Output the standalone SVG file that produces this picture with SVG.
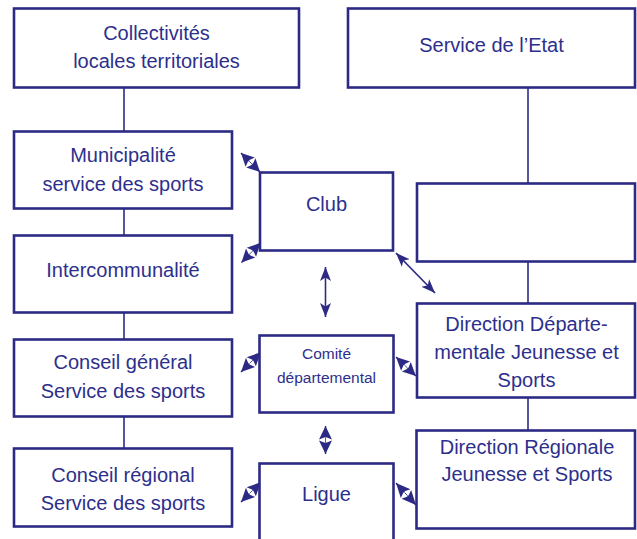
<svg xmlns="http://www.w3.org/2000/svg" xmlns:xlink="http://www.w3.org/1999/xlink" width="637" height="539" viewBox="0 0 637 539">
<style>
.box{fill:#fff;stroke:#2d2a86;stroke-width:2.6}
.lbl{font-family:"Liberation Sans",Arial,sans-serif;font-size:20px;fill:#2d2f8c;text-anchor:middle}
.sm{font-size:15.5px}
.ln{stroke:#2d2a86;stroke-width:1.6;fill:none}
.hd{fill:#2d2a86}
</style>
<defs>
<marker id="ah" markerUnits="userSpaceOnUse" markerWidth="16" markerHeight="14" viewBox="-14 -7 16 14" refX="0" refY="0" orient="auto-start-reverse">
<path d="M0,0 L-14,-5.5 L-10.5,0 L-14,5.5 Z" fill="#2d2a86"/>
</marker>
<g id="dbl">
<path class="hd" d="M0,0 L13.5,-6.5 L11,0 L13.5,6.5 Z M28,0 L14.5,-6.5 L17,0 L14.5,6.5 Z"/>
<path d="M0,0 H28" stroke="#2d2a86" stroke-width="1.4"/>
<ellipse cx="14" cy="0" rx="2.4" ry="2" fill="#fff"/>
<path d="M12,0 H16" stroke="#2d2a86" stroke-width="0.8"/>
</g>
</defs>

<g id="connectors">
<line class="ln" x1="124" y1="88" x2="124" y2="132"/>
<line class="ln" x1="124" y1="209" x2="124" y2="235"/>
<line class="ln" x1="124" y1="313" x2="124" y2="339"/>
<line class="ln" x1="124" y1="417" x2="124" y2="449"/>
<line class="ln" x1="528" y1="88" x2="528" y2="183"/>
<line class="ln" x1="528" y1="262" x2="528" y2="303"/>
<line class="ln" x1="528" y1="398" x2="528" y2="430"/>
<line class="ln" x1="325.5" y1="267" x2="325.5" y2="317" marker-start="url(#ah)" marker-end="url(#ah)"/>
<line class="ln" x1="396" y1="253" x2="435" y2="293" marker-start="url(#ah)" marker-end="url(#ah)"/>
<use xlink:href="#dbl" transform="translate(241,153) rotate(45) scale(0.96,1)"/>
<use xlink:href="#dbl" transform="translate(241.5,262.5) rotate(-46) scale(0.98,1)"/>
<use xlink:href="#dbl" transform="translate(241,372) rotate(-45)"/>
<use xlink:href="#dbl" transform="translate(241,502) rotate(-45)"/>
<use xlink:href="#dbl" transform="translate(396,357) rotate(43.5) scale(0.98,1)"/>
<use xlink:href="#dbl" transform="translate(396,483) rotate(47.7) scale(1.06,1)"/>
<use xlink:href="#dbl" transform="translate(325.5,426) rotate(90)"/>
</g>

<g id="collectivites">
<rect class="box" x="14" y="8.5" width="285" height="79"/>
<text class="lbl" x="156.5" y="40">Collectivités</text>
<text class="lbl" x="156.5" y="68">locales territoriales</text>
</g>
<g id="municipalite">
<rect class="box" x="14" y="131.5" width="218" height="77"/>
<text class="lbl" x="123" y="162">Municipalité</text>
<text class="lbl" x="123" y="191">service des sports</text>
</g>
<g id="intercommunalite">
<rect class="box" x="14" y="235.5" width="218" height="77"/>
<text class="lbl" x="123" y="277">Intercommunalité</text>
</g>
<g id="conseil-general">
<rect class="box" x="14" y="339.5" width="218" height="77"/>
<text class="lbl" x="123" y="369">Conseil général</text>
<text class="lbl" x="123" y="398">Service des sports</text>
</g>
<g id="conseil-regional">
<rect class="box" x="14" y="448.5" width="218" height="78"/>
<text class="lbl" x="123" y="482">Conseil régional</text>
<text class="lbl" x="123" y="510">Service des sports</text>
</g>
<g id="service-etat">
<rect class="box" x="348" y="8.5" width="287" height="79"/>
<text class="lbl" x="491.5" y="52">Service de l’Etat</text>
</g>
<g id="club">
<rect class="box" x="260" y="172.5" width="133" height="78"/>
<text class="lbl" x="326.5" y="211">Club</text>
</g>
<g id="empty-box">
<rect class="box" x="417" y="183.5" width="218" height="78"/>
</g>
<g id="comite">
<rect class="box" x="259.5" y="335.5" width="134" height="77"/>
<text class="lbl sm" x="326.5" y="359">Comité</text>
<text class="lbl sm" x="326.5" y="383">départemental</text>
</g>
<g id="ligue">
<rect class="box" x="259.5" y="463.5" width="134" height="90"/>
<text class="lbl" x="326.5" y="501">Ligue</text>
</g>
<g id="direction-departementale">
<rect class="box" x="417" y="303.5" width="218" height="94"/>
<text class="lbl" x="526.5" y="331">Direction Départe-</text>
<text class="lbl" x="526.5" y="359">mentale Jeunesse et</text>
<text class="lbl" x="526.5" y="387">Sports</text>
</g>
<g id="direction-regionale">
<rect class="box" x="416.5" y="430.5" width="218.5" height="98"/>
<text class="lbl" x="527" y="454">Direction Régionale</text>
<text class="lbl" x="527" y="481">Jeunesse et Sports</text>
</g>
</svg>
